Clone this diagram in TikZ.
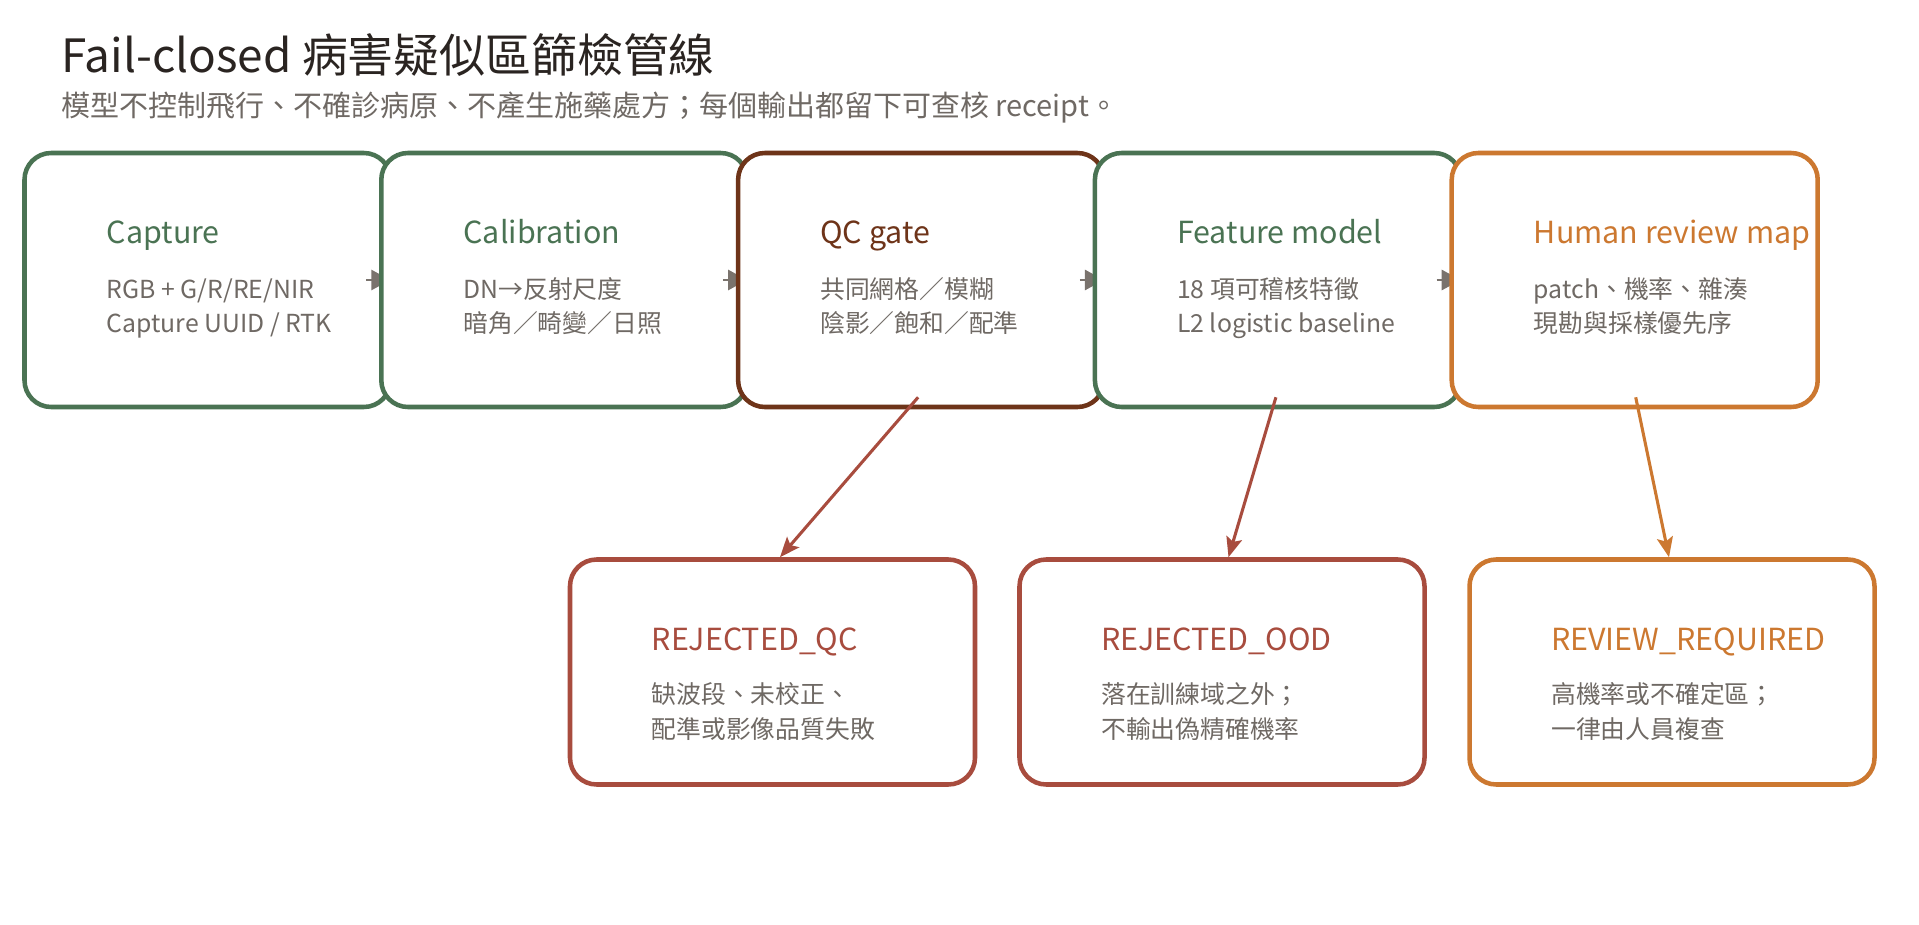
\documentclass[tikz,border=0pt]{standalone}
\usepackage{fontspec}
\setmainfont{Noto Sans CJK TC}
\usetikzlibrary{arrows.meta,calc}
\definecolor{cgreen}{HTML}{4A7353}
\definecolor{cbrown}{HTML}{6E3419}
\definecolor{cred}{HTML}{A84C3E}
\definecolor{corange}{HTML}{CC7830}
\definecolor{cgray}{HTML}{6F6964}
\definecolor{carrow}{HTML}{7A736D}
\definecolor{cdark}{HTML}{2A2421}
\begin{document}
\begin{tikzpicture}[x=0.75pt,y=-0.75pt,
 topbox/.style={draw=#1, line width=3.4pt, fill=white, rounded corners=20pt, minimum width=274.5pt, minimum height=190.5pt, inner sep=0pt},
 botbox/.style={draw=#1, line width=3.4pt, fill=white, rounded corners=20pt, minimum width=303.75pt, minimum height=168.75pt, inner sep=0pt},
 boxtitle/.style={anchor=base west, inner sep=0pt, text=#1, font=\fontsize{22.8}{27}\selectfont},
 boxline/.style={anchor=base west, inner sep=0pt, text=cgray, font=\fontsize{18.6}{22}\selectfont},
 flowarrow/.style={draw=carrow, line width=2.2pt, -{Triangle[length=14.25pt,width=15pt]}},
 outarrow/.style={draw=#1, line width=2.3pt, -{Stealth[length=15pt,width=12pt,inset=3pt]}}
]
\useasboundingbox (0,0) rectangle (1919,924);

\node[anchor=base west, inner sep=0pt, text=cdark, font=\fontsize{34.4}{40}\selectfont] (title) at (61,73) {Fail-closed 病害疑似區篩檢管線};
\node[anchor=base west, inner sep=0pt, text=cgray, font=\fontsize{21.75}{26}\selectfont] (subtitle) at (61,116) {模型不控制飛行、不確診病原、不產生施藥處方；每個輸出都留下可查核 receipt。};

% top row, each box drawn after the arrow that leaves the previous one
\node[topbox=cgreen] (b1) at (207.5,280) {};
\coordinate (f12s) at ($(b1.east)+(-26.5,0)$);
\coordinate (f12e) at ($(b1.east)+(-2.5,0)$);
\draw[flowarrow] (f12s) -- (f12e);

\node[topbox=cgreen] (b2) at (564.3,280) {};
\coordinate (f23s) at ($(b2.east)+(-26.5,0)$);
\coordinate (f23e) at ($(b2.east)+(-2.5,0)$);
\draw[flowarrow] (f23s) -- (f23e);

\node[topbox=cbrown] (b3) at (921.1,280) {};
\coordinate (f34s) at ($(b3.east)+(-26.5,0)$);
\coordinate (f34e) at ($(b3.east)+(-2.5,0)$);
\draw[flowarrow] (f34s) -- (f34e);

\node[topbox=cgreen] (b4) at (1277.9,280) {};
\coordinate (f45s) at ($(b4.east)+(-26.5,0)$);
\coordinate (f45e) at ($(b4.east)+(-2.5,0)$);
\draw[flowarrow] (f45s) -- (f45e);

\node[topbox=corange] (b5) at (1634.7,280) {};

\node[boxtitle=cgreen] (t1) at (106.5,243) {Capture};
\node[boxline] (t1a) at (106.5,298) {RGB + G/R/RE/NIR};
\node[boxline] (t1b) at (106.5,332) {Capture UUID / RTK};

\node[boxtitle=cgreen] (t2) at (463.3,243) {Calibration};
\node[boxline] (t2a) at (463.3,298) {DN→反射尺度};
\node[boxline] (t2b) at (463.3,332) {暗角／畸變／日照};

\node[boxtitle=cbrown] (t3) at (820.1,243) {QC gate};
\node[boxline] (t3a) at (820.1,298) {共同網格／模糊};
\node[boxline] (t3b) at (820.1,332) {陰影／飽和／配準};

\node[boxtitle=cgreen] (t4) at (1176.9,243) {Feature model};
\node[boxline] (t4a) at (1176.9,298) {18 項可稽核特徵};
\node[boxline] (t4b) at (1176.9,332) {L2 logistic baseline};

\node[boxtitle=corange] (t5) at (1533.7,243) {Human review map};
\node[boxline] (t5a) at (1533.7,298) {patch、機率、雜湊};
\node[boxline] (t5b) at (1533.7,332) {現勘與採樣優先序};

% bottom row
\node[botbox=cred] (r1) at (772.5,672) {};
\node[botbox=cred] (r2) at (1222,672) {};
\node[botbox=corange] (r3) at (1672,672) {};

\node[boxtitle=cred] (s1) at (651.5,650) {REJECTED\_QC};
\node[boxline] (s1a) at (651.5,703) {缺波段、未校正、};
\node[boxline] (s1b) at (651.5,738) {配準或影像品質失敗};

\node[boxtitle=cred] (s2) at (1101,650) {REJECTED\_OOD};
\node[boxline] (s2a) at (1101,703) {落在訓練域之外；};
\node[boxline] (s2b) at (1101,738) {不輸出偽精確機率};

\node[boxtitle=corange] (s3) at (1551,650) {REVIEW\_REQUIRED};
\node[boxline] (s3a) at (1551,703) {高機率或不確定區；};
\node[boxline] (s3b) at (1551,738) {一律由人員複查};

% out arrows
\coordinate (o1s) at ($(b3.south)+(-3,-12)$);
\coordinate (o1e) at ($(r1.north)+(7.5,0)$);
\coordinate (o2s) at ($(b4.south)+(-2,-12)$);
\coordinate (o2e) at ($(r2.north)+(6.5,0)$);
\coordinate (o3s) at ($(b5.south)+(1,-12)$);
\coordinate (o3e) at ($(r3.north)+(-3,0)$);
\draw[outarrow=cred] (o1s) -- (o1e);
\draw[outarrow=cred] (o2s) -- (o2e);
\draw[outarrow=corange] (o3s) -- (o3e);
\end{tikzpicture}
\end{document}
